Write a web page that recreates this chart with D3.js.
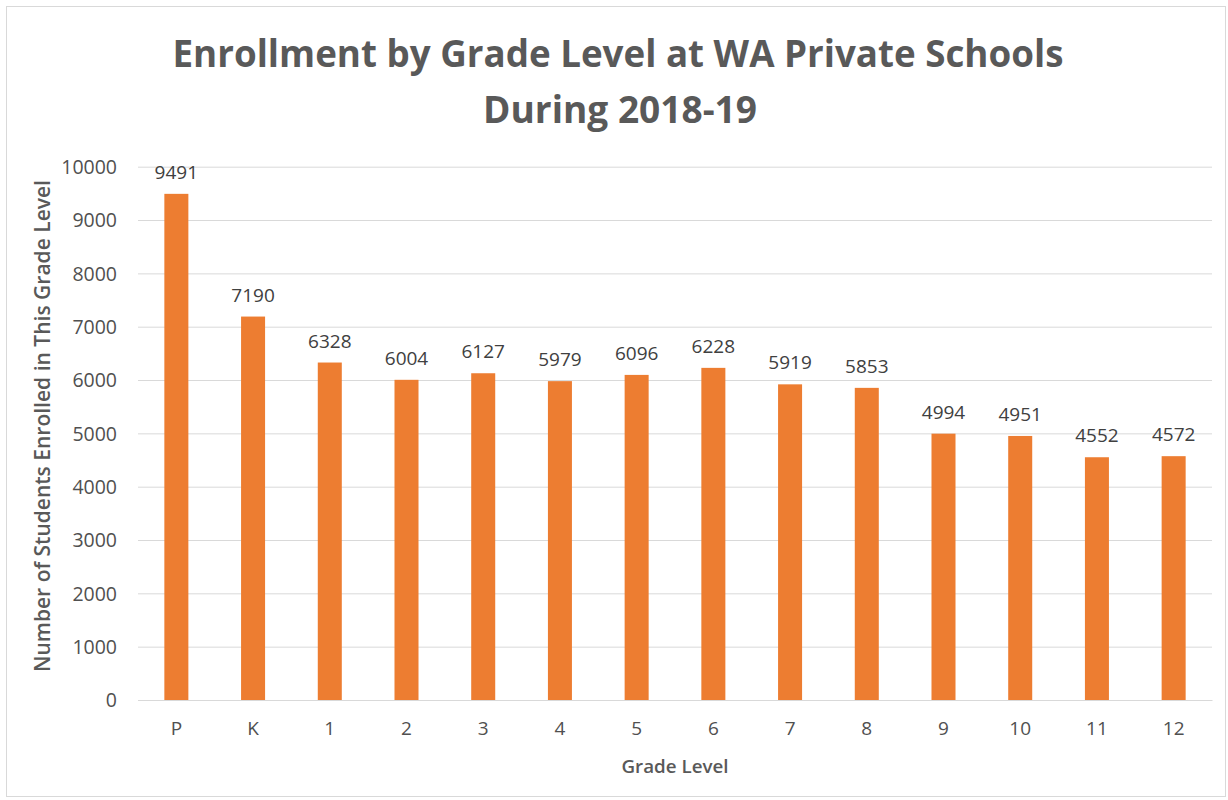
<!DOCTYPE html>
<html>
<head>
<meta charset="utf-8">
<script src="https://cdn.jsdelivr.net/npm/d3@7/dist/d3.min.js"></script>
<style>
  html, body { margin: 0; padding: 0; background: #fff; }
  svg { display: block; }
  text { font-family: "Open Sans", "Noto Sans", sans-serif; }
</style>
</head>
<body>
<svg id="chart" width="1228" height="800"></svg>
<script>
const grades = ["P", "K", "1", "2", "3", "4", "5", "6", "7", "8", "9", "10", "11", "12"];
const enrollment = [9491, 7190, 6328, 6004, 6127, 5979, 6096, 6228, 5919, 5853, 4994, 4951, 4552, 4572];
const yTicks = [0, 1000, 2000, 3000, 4000, 5000, 6000, 7000, 8000, 9000, 10000];
const titleLines = ["Enrollment by Grade Level at WA Private Schools", "During 2018-19"];
const xTitle = "Grade Level";
const yTitle = "Number of Students Enrolled in This Grade Level";

const svg = d3.select("#chart");
const plot = { left: 138, right: 1212, top: 166.7, bottom: 700 };

// chart border
svg.append("rect")
  .attr("x", 6.5).attr("y", 6.5)
  .attr("width", 1219).attr("height", 790)
  .attr("fill", "#fff").attr("stroke", "#d9d9d9").attr("stroke-width", 1);

const x = d3.scaleBand().domain(grades).range([plot.left, plot.right]).paddingInner(0.687).paddingOuter(0.3435);
const y = d3.scaleLinear().domain([0, 10000]).range([plot.bottom, plot.top]);

// gridlines + y tick labels
const yAxis = d3.axisLeft(y).tickValues(yTicks).tickSize(-(plot.right - plot.left)).tickPadding(21).tickFormat(d3.format("d"));
const gy = svg.append("g").attr("transform", `translate(${plot.left},0)`).call(yAxis);
gy.select(".domain").remove();
gy.selectAll(".tick line").attr("stroke", "#d9d9d9").attr("stroke-width", 1);
gy.selectAll(".tick text")
  .attr("fill", "#505050").style("font-size", "19.5px").style("font-weight", "500")
  .style("font-family", "'Open Sans', sans-serif")
  .attr("dy", "0.35em");

// bars
svg.append("g").selectAll("rect").data(grades).join("rect")
  .attr("x", d => x(d))
  .attr("width", x.bandwidth())
  .attr("y", (d, i) => y(enrollment[i]))
  .attr("height", (d, i) => y(0) - y(enrollment[i]))
  .attr("fill", "#ED7D31");

// data labels
svg.append("g").selectAll("text").data(grades).join("text")
  .attr("x", d => x(d) + x.bandwidth() / 2)
  .attr("y", (d, i) => y(enrollment[i]) - 15)
  .attr("text-anchor", "middle")
  .attr("fill", "#404040")
  .style("font-size", "19px").style("font-weight", "500")
  .text((d, i) => enrollment[i]);

// x axis
const xAxis = d3.axisBottom(x).tickSize(0).tickPadding(22);
const gx = svg.append("g").attr("transform", `translate(0,${plot.bottom})`).call(xAxis);
gx.select(".domain").attr("stroke", "#d9d9d9");
gx.selectAll(".tick text").attr("fill", "#505050").style("font-size", "19px").style("font-weight", "500")
  .style("font-family", "'Open Sans', sans-serif");

function fitWidth(sel, target) {
  const w = sel.node().getComputedTextLength();
  const fs = parseFloat(sel.style("font-size"));
  sel.style("font-size", (fs * target / w).toFixed(2) + "px");
}

// title
const t1 = svg.append("text").attr("x", 618).attr("y", 67).attr("text-anchor", "middle")
  .attr("fill", "#595959").style("font-weight", "bold").style("font-size", "40px").text(titleLines[0]);
fitWidth(t1, 891);
const t2 = svg.append("text").attr("x", 620).attr("y", 123).attr("text-anchor", "middle")
  .attr("fill", "#595959").style("font-weight", "bold").style("font-size", "40px").text(titleLines[1]);
fitWidth(t2, 274);

// axis titles
const xt = svg.append("text").attr("x", 675).attr("y", 773).attr("text-anchor", "middle")
  .attr("fill", "#595959").style("font-weight", "600").style("font-size", "18px").text(xTitle);
fitWidth(xt, 107);
const yt = svg.append("text").attr("transform", "translate(50,426) rotate(-90)").attr("text-anchor", "middle")
  .attr("fill", "#595959").style("font-weight", "600").style("font-size", "18px").text(yTitle);
fitWidth(yt, 492);
</script>
</body>
</html>
